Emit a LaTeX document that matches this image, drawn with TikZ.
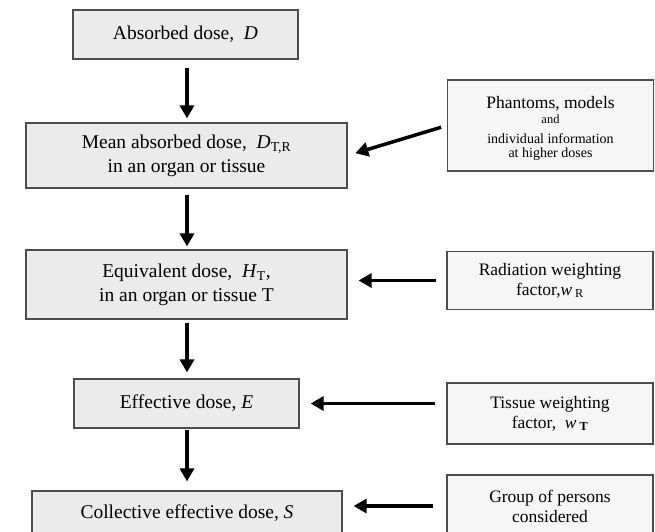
\documentclass[tikz,border=0pt]{standalone}
\usepackage{fontspec}
\setmainfont{Liberation Serif}
\usepackage{tikz}
\usetikzlibrary{positioning,arrows.meta}

\definecolor{BoxLine}{HTML}{4D4D4D}
\definecolor{LeftFill}{HTML}{EBEBEB}
\definecolor{RightFill}{HTML}{F6F6F6}

\begin{document}
\begin{tikzpicture}[
        x=1pt,y=-1pt,
        %Environment styles
        DoseBox/.style={
            draw=BoxLine, line width=1.2pt, fill=LeftFill,
            inner sep=0pt, align=center,
            font=\fontsize{19.5}{24}\selectfont
        },
        FactorBox/.style={
            draw=BoxLine, line width=1.2pt, fill=RightFill,
            inner sep=0pt, align=center, minimum width=206pt,
            font=\fontsize{17.5}{20}\selectfont
        },
        FlowArrow/.style={
            line width=3.5pt,
            -{Triangle[length=13pt,width=14pt]}
        }
    ]
    \useasboundingbox (0,0) rectangle (655,531);

    % main chain
    \path
        (185.5,34.5) node[DoseBox,minimum width=225pt,minimum height=49pt](A){Absorbed dose,\enspace\textit{D}}
        (186.5,155.5) node[DoseBox,minimum width=321pt,minimum height=65pt](M){Mean absorbed dose,\enspace\textit{D}\textsubscript{T,R}\\ in an organ or tissue}
        (186.5,284.5) node[DoseBox,minimum width=321pt,minimum height=69pt](Eq){Equivalent dose,\enspace\textit{H}\textsubscript{T},\\ in an organ or tissue T}
        (186.5,403.5) node[DoseBox,minimum width=225pt,minimum height=49pt](E){Effective dose, \textit{E}}
        (187,513) node[DoseBox,minimum width=310pt,minimum height=44pt](C){Collective effective dose, \textit{S}};

    % factors on the right
    \path
        (550.5,125.5) node[FactorBox,minimum height=91pt](P){}
        (P.center) ++(0,3) node[inner sep=0pt,align=center,font=\fontsize{14}{14}\selectfont](Ptext){%
            {\fontsize{17.5}{20}\selectfont Phantoms, models}\\[1pt]
            {\fontsize{12.5}{15}\selectfont and}\\[6pt]
            individual information\\ at higher doses}
        (550,280.5) node[FactorBox,minimum height=58pt](R){Radiation weighting\\ factor,\textit{w}\,\textsubscript{R}}
        (550,413.5) node[FactorBox,minimum height=61pt](T){Tissue weighting\\ factor,\enspace\textit{w}\,\textsubscript{\textbf{T}}}
        (550,506) node[FactorBox,minimum height=62pt](G){Group of persons\\ considered};

    \draw[FlowArrow,shorten <=8pt,shorten >=4pt] (A.south -| 187,0) -- (M.north -| 187,0);
    \draw[FlowArrow,shorten <=6pt,shorten >=3pt] (M.south -| 187,0) -- (Eq.north -| 187,0);
    \draw[FlowArrow,shorten <=3pt,shorten >=6pt] (Eq.south -| 187,0) -- (E.north -| 187,0);
    \draw[FlowArrow,shorten <=1pt,shorten >=9pt] (E.south -| 187,0) -- (C.north -| 187,0);

    \draw[FlowArrow,shorten <=6pt,shorten >=8pt] (P.west) -- (M.east);
    \draw[FlowArrow,shorten <=10pt,shorten >=11pt] (R.west) -- (R.west -| Eq.east);
    \draw[FlowArrow,shorten <=11pt,shorten >=11pt] (T.west |- E.east) -- (E.east);
    \draw[FlowArrow,shorten <=13pt,shorten >=11pt] (G.west) -- (G.west -| C.east);
\end{tikzpicture}
\end{document}
